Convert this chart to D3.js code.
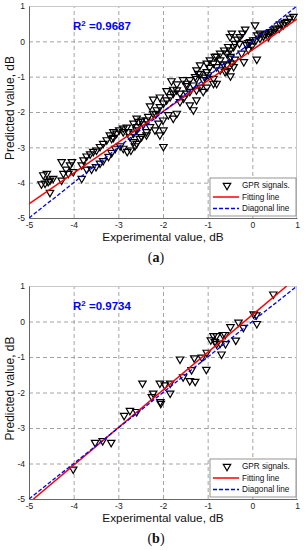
<!DOCTYPE html>
<html><head><meta charset="utf-8">
<script src="https://cdn.jsdelivr.net/npm/d3@7/dist/d3.min.js"></script>
<style>body{margin:0;background:#fff}svg{display:block}</style>
</head><body>
<svg id="c" width="305" height="550"></svg>
<script>
// ---------- DATA ----------
const ticks = [-5, -4, -3, -2, -1, 0, 1];
const tickLabels = ["-5", "-4", "-3", "-2", "-1", "0", "1"];
const legendLabels = ["GPR signals.", "Fitting line", "Diagonal line"];
const xLabel = "Experimental value, dB";
const yLabel = "Predicted value, dB";

// panel (a)
const expA = [-4.72,-4.68,-4.64,-4.60,-4.57,-4.53,-4.53,-4.46,-4.27,-4.27,-4.23,-4.17,-4.12,-4.08,-4.04,-4.01,
 -3.82,-3.82,-3.78,-3.71,-3.71,-3.63,-3.60,-3.56,-3.50,-3.49,-3.41,-3.41,-3.34,-3.34,-3.26,-3.22,-3.19,-3.15,-3.15,
 -3.11,-3.11,-3.07,-3.04,-2.98,-2.96,-2.89,-2.89,-2.89,-2.81,-2.80,-2.78,-2.74,-2.72,-2.66,-2.66,-2.66,-2.63,-2.59,
 -2.59,-2.59,-2.58,-2.55,-2.52,-2.48,-2.48,-2.44,-2.37,-2.37,-2.37,-2.33,-2.29,-2.29,-2.22,-2.22,-2.18,-2.16,-2.14,
 -2.10,-2.07,-2.07,-2.07,-2.00,-1.99,-1.99,-1.99,-1.92,-1.92,-1.88,-1.84,-1.81,-1.77,-1.77,-1.77,-1.69,-1.69,-1.69,
 -1.62,-1.62,-1.55,-1.54,-1.47,-1.47,-1.47,-1.40,-1.40,-1.40,-1.32,-1.32,-1.28,-1.25,-1.25,-1.25,-1.25,-1.21,-1.17,
 -1.17,-1.17,-1.10,-1.10,-1.06,-1.02,-1.02,-1.02,-0.99,-0.96,-0.95,-0.87,-0.87,-0.87,-0.84,-0.80,-0.80,-0.80,-0.72,
 -0.72,-0.72,-0.65,-0.63,-0.61,-0.57,-0.57,-0.57,-0.54,-0.50,-0.50,-0.50,-0.49,-0.49,-0.46,-0.46,-0.42,-0.42,-0.39,
 -0.39,-0.34,-0.29,-0.28,-0.24,-0.22,-0.19,-0.16,-0.13,-0.09,-0.09,-0.05,-0.01,0.02,0.06,0.08,0.10,0.11,0.17,0.17,
 0.25,0.28,0.36,0.36,0.40,0.43,0.49,0.53,0.60,0.62,0.69,0.73,0.78,0.84,0.92];
const predA = [-4.04,-3.78,-4.02,-3.74,-3.97,-4.28,-3.93,-3.88,-3.41,-3.93,-3.74,-3.62,-3.74,-3.50,-3.41,-3.69,
 -3.88,-3.50,-3.36,-3.62,-3.25,-3.19,-3.62,-3.12,-3.55,-3.08,-3.45,-2.98,-3.38,-2.89,-2.79,-3.26,-2.65,-3.15,-2.75,
 -2.72,-2.56,-3.03,-2.60,-2.51,-2.96,-3.03,-2.46,-2.56,-2.43,-3.12,-2.56,-2.70,-3.08,-2.84,-2.60,-2.32,-2.96,-2.89,
 -2.51,-2.18,-2.42,-2.27,-2.75,-2.70,-2.23,-2.34,-2.65,-2.56,-2.23,-2.13,-2.42,-1.83,-2.04,-1.64,-2.51,-2.06,-1.94,
 -2.32,-2.65,-1.85,-1.58,-2.23,-2.98,-2.51,-1.75,-1.66,-1.40,-2.08,-1.57,-1.12,-2.18,-1.47,-1.36,-2.04,-1.38,-1.21,
 -1.71,-1.47,-1.09,-1.61,-1.47,-1.26,-1.19,-1.80,-1.42,-1.09,-1.94,-1.24,-1.00,-1.66,-1.38,-1.05,-0.81,-0.91,-1.30,
 -0.92,-0.67,-1.42,-1.09,-1.02,-1.30,-0.86,-0.62,-0.95,-0.74,-0.53,-1.19,-1.05,-0.62,-0.43,-1.19,-0.72,-0.42,-0.81,
 -0.53,-0.34,-0.64,-0.25,-0.86,-0.83,-0.67,-0.34,-0.15,-0.48,-0.25,0.13,-0.98,-0.43,-0.62,0.23,-0.72,-0.15,-0.51,
 -0.06,0.06,-0.06,0.13,-0.34,0.23,-0.58,0.34,-0.10,-0.23,-0.04,-0.01,-0.13,0.04,0.46,0.04,-0.51,0.18,0.09,0.23,
 0.15,0.20,0.23,0.13,0.27,0.27,0.32,0.37,0.37,0.49,0.46,0.53,0.56,0.65,0.70];
const fitAx = [-5, 1];
const fitAy = [-4.60, 0.63];
const r2A = "0.9687";

// panel (b)
const expB = [0.47,0.03,0.09,0.10,-0.20,-0.31,-0.49,-0.37,-0.66,-0.61,-0.80,-0.87,-0.93,-0.84,-0.72,-0.60,-0.80,
 -0.69,-1.02,-1.13,-1.30,-1.62,-1.03,-1.36,-1.40,-1.28,-1.55,-2.07,-1.96,-1.84,-1.84,-2.22,-2.25,-2.46,-2.06,-2.05,
 -2.87,-2.74,-2.59,-3.52,-3.35,-3.16,-4.01];
const predB = [0.77,0.21,0.18,-0.06,-0.17,-0.02,-0.15,-0.53,-0.37,-0.37,-0.40,-0.40,-0.52,-0.57,-0.61,-0.63,-0.63,
 -0.92,-0.87,-1.01,-1.03,-1.06,-1.35,-1.36,-1.67,-1.69,-1.56,-1.74,-1.79,-1.74,-2.02,-2.02,-2.12,-1.74,-2.26,-2.31,
 -2.65,-2.51,-2.54,-3.41,-3.36,-3.41,-4.16];
const fitBx = [-4.90, 0.77];
const fitBy = [-5, 1];
const r2B = "0.9734";

const diagX = [-5, 1];
const diagY = [-5, 1];

// ---------- DRAW ----------
const svg = d3.select("#c");
const FONT = "'Liberation Sans', Arial, sans-serif";

function panel(id, top, bottom, ex, pr, fx, fy, r2, caption) {
  const left = 29, right = 297;
  const x = d3.scaleLinear().domain([-5, 1]).range([left, right]);
  const y = d3.scaleLinear().domain([-5, 1]).range([bottom, top]);
  const g = svg.append("g");

  g.append("defs").append("clipPath").attr("id", "clip" + id)
    .append("rect").attr("x", left).attr("y", top).attr("width", right - left).attr("height", bottom - top);

  // grid (via axes)
  const gx = g.append("g").attr("transform", `translate(0,${bottom})`)
    .call(d3.axisBottom(x).tickValues(ticks.slice(1, -1)).tickSize(-(bottom - top)).tickFormat(""));
  const gy = g.append("g").attr("transform", `translate(${left},0)`)
    .call(d3.axisLeft(y).tickValues(ticks.slice(1, -1)).tickSize(-(right - left)).tickFormat(""));
  [gx, gy].forEach(a => {
    a.select(".domain").remove();
    a.selectAll("line").attr("stroke", "#9a9a9a").attr("stroke-width", 0.9).attr("stroke-dasharray", "4,3");
  });

  // box
  g.append("line").attr("x1", left).attr("x2", right).attr("y1", top + 0.5).attr("y2", top + 0.5).attr("stroke", "#c8c8c8");
  g.append("line").attr("x1", right - 0.5).attr("x2", right - 0.5).attr("y1", top).attr("y2", bottom).attr("stroke", "#c8c8c8");

  // axes with labels
  const ax = g.append("g").attr("transform", `translate(0,${bottom})`)
    .call(d3.axisBottom(x).tickValues(ticks).tickFormat((d, i) => tickLabels[i]).tickSize(0).tickPadding(4));
  const ay = g.append("g").attr("transform", `translate(${left},0)`)
    .call(d3.axisLeft(y).tickValues(ticks).tickFormat((d, i) => tickLabels[i]).tickSize(0).tickPadding(4));
  [ax, ay].forEach(a => {
    a.select(".domain").attr("stroke", "#666").attr("stroke-width", 1);
    a.selectAll("text").attr("font-family", FONT).attr("font-size", 8.5).attr("fill", "#222");
  });

  // points
  const sym = d3.symbol().type(d3.symbolTriangle).size(24);
  g.append("g").selectAll("path").data(ex).join("path")
    .attr("d", sym)
    .attr("transform", (d, i) => `translate(${x(d)},${y(pr[i])}) rotate(180)`)
    .attr("fill", "none").attr("stroke", "#000").attr("stroke-width", 1.2);

  const line = d3.line().x(d => x(d[0])).y(d => y(d[1]));
  const lg = g.append("g").attr("clip-path", `url(#clip${id})`);
  lg.append("path").attr("d", line(fx.map((v, i) => [v, fy[i]])))
    .attr("stroke", "#ff0000").attr("stroke-width", 1.5).attr("fill", "none");
  lg.append("path").attr("d", line(diagX.map((v, i) => [v, diagY[i]])))
    .attr("stroke", "#0000ff").attr("stroke-width", 1.3).attr("stroke-dasharray", "4,2").attr("fill", "none");

  // R2 text
  const t = g.append("text").attr("x", 73).attr("y", top + 24)
    .attr("font-family", FONT).attr("font-size", 11.5).attr("font-weight", "bold").attr("fill", "#0000ff");
  t.append("tspan").text("R");
  t.append("tspan").attr("baseline-shift", "super").attr("font-size", 8).text("2");
  t.append("tspan").text(" =" + r2);

  // legend
  const lw = 86, lh = 38;
  const lx = right - 1 - lw, ly = bottom - 2 - lh;
  const leg = g.append("g");
  leg.append("rect").attr("x", lx).attr("y", ly).attr("width", lw).attr("height", lh)
    .attr("fill", "#fff").attr("stroke", "#7a7a7a").attr("stroke-width", 0.8);
  const rows = [ly + 7.5, ly + 19, ly + 30.5];
  leg.append("path").attr("d", sym).attr("transform", `translate(${lx + 17},${rows[0]}) rotate(180)`)
    .attr("fill", "none").attr("stroke", "#000").attr("stroke-width", 1.2);
  leg.append("line").attr("x1", lx + 3).attr("x2", lx + 29).attr("y1", rows[1]).attr("y2", rows[1])
    .attr("stroke", "#ff0000").attr("stroke-width", 1.5);
  leg.append("line").attr("x1", lx + 3).attr("x2", lx + 29).attr("y1", rows[2]).attr("y2", rows[2])
    .attr("stroke", "#0000ff").attr("stroke-width", 1.3).attr("stroke-dasharray", "4,2");
  legendLabels.forEach((s, i) => {
    leg.append("text").attr("x", lx + 32).attr("y", rows[i]).attr("dy", "0.35em")
      .attr("font-family", FONT).attr("font-size", 8.2).attr("fill", "#111").text(s);
  });

  // axis titles
  g.append("text").attr("x", (left + right) / 2).attr("y", bottom + 23).attr("text-anchor", "middle")
    .attr("font-family", FONT).attr("font-size", 11.8).attr("fill", "#111").text(xLabel);
  g.append("text").attr("transform", `translate(14,${(top + bottom) / 2 - 4}) rotate(-90)`).attr("text-anchor", "middle")
    .attr("font-family", FONT).attr("font-size", 12).attr("fill", "#111").text(yLabel);

  // caption
  const c = g.append("text").attr("x", 156).attr("y", bottom + 44).attr("text-anchor", "middle")
    .attr("font-family", "'Liberation Serif', 'DejaVu Serif', serif").attr("font-size", 14).attr("fill", "#111");
  c.append("tspan").text("(");
  c.append("tspan").attr("font-weight", "bold").text(caption);
  c.append("tspan").text(")");
}

panel("a", 6, 218, expA, predA, fitAx, fitAy, r2A, "a");
panel("b", 286, 499, expB, predB, fitBx, fitBy, r2B, "b");
</script>
</body></html>
